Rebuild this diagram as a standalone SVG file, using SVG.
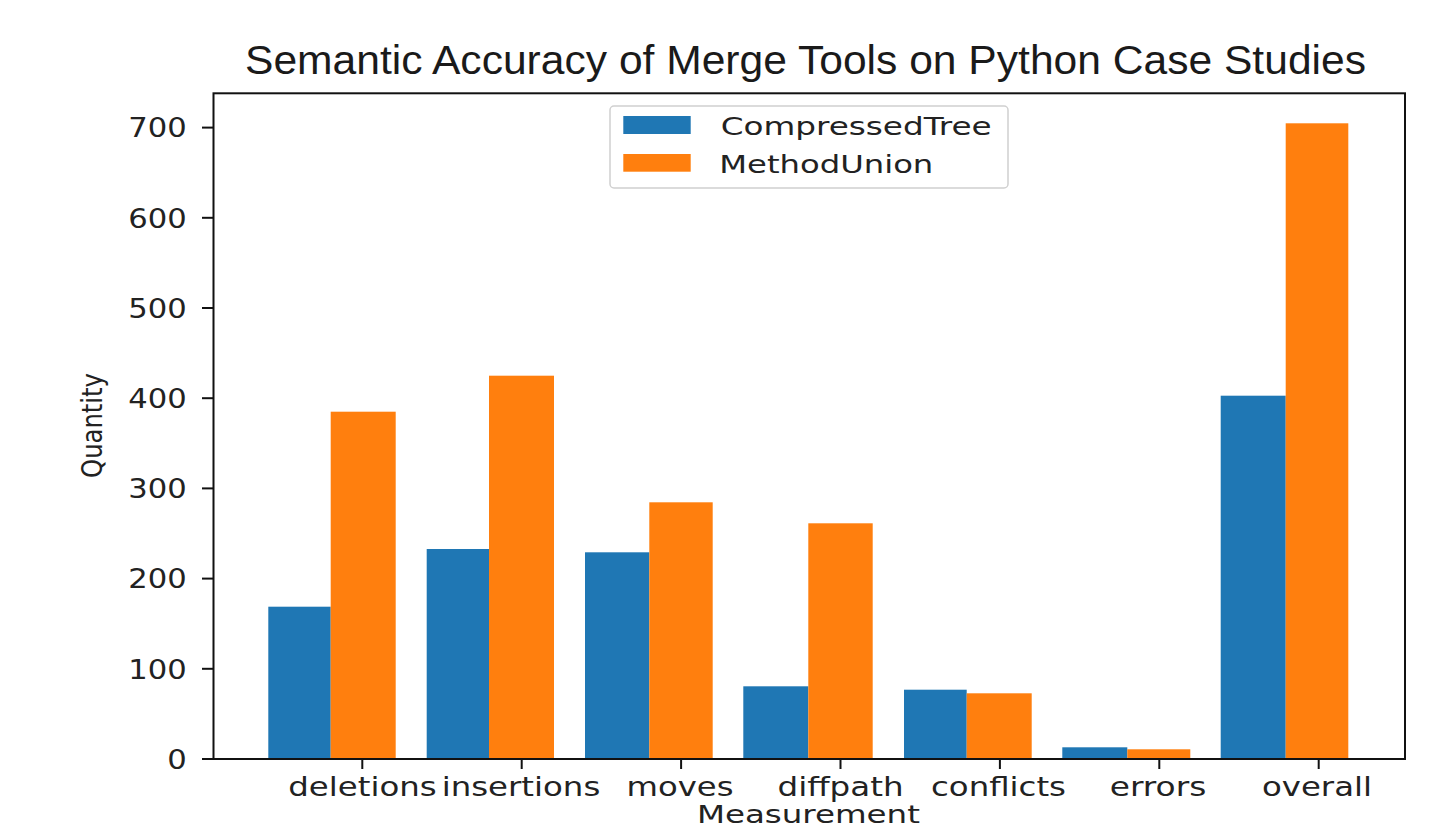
<svg xmlns="http://www.w3.org/2000/svg" width="1435" height="830" viewBox="0 0 1435 830">
<style>
.t{font-family:"DejaVu Sans",sans-serif;font-size:27px;fill:#222}
.b{fill:#1f77b4}
.o{fill:#ff7f0e}
.ax{fill:none;stroke:#111;stroke-width:2}
.tk{stroke:#111;stroke-width:2}
</style>
<rect width="1435" height="830" fill="#fff"/>
<text id="title" x="245" y="74" textLength="1121" lengthAdjust="spacingAndGlyphs" style="font-family:'Liberation Sans',Arial,sans-serif;font-size:40px;fill:#1a1a1a">Semantic Accuracy of Merge Tools on Python Case Studies</text>
<g id="bars">
<rect class="b" x="268.3" y="606.7" width="62.4" height="152.3"/>
<rect class="o" x="330.7" y="411.7" width="65" height="347.3"/>
<rect class="b" x="426.7" y="549" width="62.3" height="210"/>
<rect class="o" x="489" y="375.7" width="65" height="383.3"/>
<rect class="b" x="585" y="552.3" width="64.3" height="206.7"/>
<rect class="o" x="649.3" y="502.3" width="63.4" height="256.7"/>
<rect class="b" x="743.3" y="686.3" width="65" height="72.7"/>
<rect class="o" x="808.3" y="523.3" width="64.4" height="235.7"/>
<rect class="b" x="904" y="689.7" width="62.7" height="69.3"/>
<rect class="o" x="966.7" y="693.3" width="65" height="65.7"/>
<rect class="b" x="1062.3" y="747.3" width="65" height="11.7"/>
<rect class="o" x="1127.3" y="749.3" width="63" height="9.7"/>
<rect class="b" x="1220.7" y="395.7" width="65" height="363.3"/>
<rect class="o" x="1285.7" y="123.3" width="62.6" height="635.7"/>
</g>
<g id="axes">
<rect class="ax" x="213.5" y="93.3" width="1191.5" height="665.7"/>
<g id="yticks">
<line class="tk" x1="202" y1="759" x2="213.5" y2="759"/>
<line class="tk" x1="202" y1="668.8" x2="213.5" y2="668.8"/>
<line class="tk" x1="202" y1="578.6" x2="213.5" y2="578.6"/>
<line class="tk" x1="202" y1="488.4" x2="213.5" y2="488.4"/>
<line class="tk" x1="202" y1="398.2" x2="213.5" y2="398.2"/>
<line class="tk" x1="202" y1="308" x2="213.5" y2="308"/>
<line class="tk" x1="202" y1="217.8" x2="213.5" y2="217.8"/>
<line class="tk" x1="202" y1="127.6" x2="213.5" y2="127.6"/>
<text class="t" x="186.7" y="768.8" text-anchor="end" textLength="19.5" lengthAdjust="spacingAndGlyphs">0</text>
<text class="t" x="186.7" y="678.6" text-anchor="end" textLength="58.4" lengthAdjust="spacingAndGlyphs">100</text>
<text class="t" x="186.7" y="588.4" text-anchor="end" textLength="58.4" lengthAdjust="spacingAndGlyphs">200</text>
<text class="t" x="186.7" y="498.2" text-anchor="end" textLength="58.4" lengthAdjust="spacingAndGlyphs">300</text>
<text class="t" x="186.7" y="408" text-anchor="end" textLength="58.4" lengthAdjust="spacingAndGlyphs">400</text>
<text class="t" x="186.7" y="317.8" text-anchor="end" textLength="58.4" lengthAdjust="spacingAndGlyphs">500</text>
<text class="t" x="186.7" y="227.6" text-anchor="end" textLength="58.4" lengthAdjust="spacingAndGlyphs">600</text>
<text class="t" x="186.7" y="137.4" text-anchor="end" textLength="58.4" lengthAdjust="spacingAndGlyphs">700</text>
</g>
<g id="xticks">
<line class="tk" x1="362.3" y1="759" x2="362.3" y2="769"/>
<line class="tk" x1="521.7" y1="759" x2="521.7" y2="769"/>
<line class="tk" x1="681.1" y1="759" x2="681.1" y2="769"/>
<line class="tk" x1="840.5" y1="759" x2="840.5" y2="769"/>
<line class="tk" x1="999.9" y1="759" x2="999.9" y2="769"/>
<line class="tk" x1="1159.3" y1="759" x2="1159.3" y2="769"/>
<line class="tk" x1="1318.7" y1="759" x2="1318.7" y2="769"/>
<text class="t" x="362.5" y="796" text-anchor="middle" textLength="148.4" lengthAdjust="spacingAndGlyphs">deletions</text>
<text class="t" x="521" y="796" text-anchor="middle" textLength="158.6" lengthAdjust="spacingAndGlyphs">insertions</text>
<text class="t" x="680" y="796" text-anchor="middle" textLength="107" lengthAdjust="spacingAndGlyphs">moves</text>
<text class="t" x="840.5" y="796" text-anchor="middle" textLength="126" lengthAdjust="spacingAndGlyphs">diffpath</text>
<text class="t" x="998.5" y="796" text-anchor="middle" textLength="135" lengthAdjust="spacingAndGlyphs">conflicts</text>
<text class="t" x="1158" y="796" text-anchor="middle" textLength="96.6" lengthAdjust="spacingAndGlyphs">errors</text>
<text class="t" x="1317" y="796" text-anchor="middle" textLength="110" lengthAdjust="spacingAndGlyphs">overall</text>
</g>
<text id="xlabel" class="t" style="font-size:24px" x="808.4" y="823" text-anchor="middle" textLength="223" lengthAdjust="spacingAndGlyphs">Measurement</text>
<text id="ylabel" class="t" style="font-size:24.3px" text-anchor="middle" transform="translate(101.7,425.5) scale(1.18,1) rotate(-90)">Quantity</text>
</g>
<g id="legend">
<rect x="610" y="106" width="398" height="82" rx="4" fill="#fff" fill-opacity="0.8" stroke="#d0d0d0" stroke-width="1.5"/>
<rect class="b" x="623.3" y="116" width="67.4" height="18"/>
<rect class="o" x="623.3" y="154" width="67.4" height="17.7"/>
<text class="t" style="font-size:25.5px" x="720.7" y="135" textLength="271" lengthAdjust="spacingAndGlyphs">CompressedTree</text>
<text class="t" style="font-size:25.5px" x="719.3" y="172.7" textLength="214" lengthAdjust="spacingAndGlyphs">MethodUnion</text>
</g>
</svg>
